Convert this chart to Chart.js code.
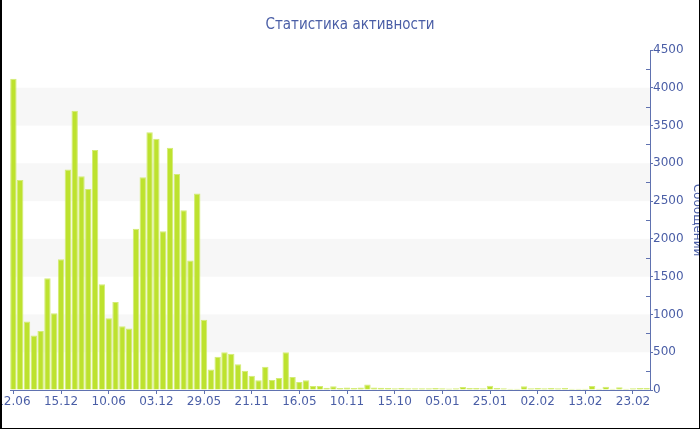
<!DOCTYPE html>
<html>
<head>
<meta charset="utf-8">
<script src="https://cdn.jsdelivr.net/npm/chart.js@4/dist/chart.umd.min.js"></script>
<style>
  html, body { margin: 0; padding: 0; background: #fff; overflow: hidden; }
  #wrap { position: relative; width: 700px; height: 430px; }
  #rama {
    position: absolute; left: 0; top: 0; width: 697px; height: 428px;
    border: 1px solid #000; border-left-width: 2px; border-top: none; pointer-events: none;
  }
</style>
</head>
<body>
<div id="wrap">
  <canvas id="chartAktywnosc" width="700" height="430"></canvas>
  <div id="rama"></div>
</div>
<script>
// Dane (liczba wiadomości na okres)
const wiadomosci = [
  4120, 2780, 905, 720, 780, 1480, 1015, 1730, 2920, 3695,
  2830, 2660, 3175, 1400, 950, 1165, 845, 815, 2135, 2815,
  3410, 3325, 2100, 3205, 2860, 2380, 1715, 2600, 930, 270,
  440, 500, 480, 340, 256, 190, 128, 309, 132, 159,
  500, 172, 106, 128, 53, 53, 31, 50, 26, 33,
  28, 33, 73, 33, 30, 26, 22, 27, 24, 24,
  24, 24, 27, 24, 20, 22, 40, 27, 26, 22,
  57, 26, 22, 18, 18, 48, 22, 26, 22, 26,
  22, 26, 18, 18, 18, 53, 18, 44, 18, 35,
  18, 22, 26, 26
];

// Podpisy osi X (co 7 słupków)
const podpisyX = ['12.06', '15.12', '10.06', '03.12', '29.05', '21.11', '16.05',
                  '10.11', '15.10', '05.01', '25.01', '02.02', '13.02', '23.02'];
const krokPodpisow = 7;

const tytul = 'Статистика активности';
const tytulOsiY = 'Сообщений';

const kolorTekstu = '#4a5ea6';
const kolorOsi = '#6072b0';
const czcionka = '"DejaVu Sans", Verdana, sans-serif';

// Kategorie: podpis przy co siódmym słupku
const kategorie = wiadomosci.map((_, i) => (i % krokPodpisow === 0 ? podpisyX[i / krokPodpisow] : ''));

/**
 * Pasy tła i drobne kreski osi Y
 */
const pasyTla = {
  id: 'pasyTla',
  beforeDatasetsDraw(chart) {
    const { ctx, chartArea, scales: { y } } = chart;
    ctx.save();
    ctx.fillStyle = '#f7f7f7';
    for (let v = 500; v < 4500; v += 1000) {
      const gora = y.getPixelForValue(v + 500);
      const dol = y.getPixelForValue(v);
      ctx.fillRect(chartArea.left, gora, chartArea.right - chartArea.left, dol - gora);
    }
    ctx.restore();
  },
  afterDraw(chart) {
    const { ctx, chartArea, scales: { y } } = chart;
    ctx.save();
    ctx.strokeStyle = kolorOsi;
    ctx.lineWidth = 1;
    ctx.beginPath();
    for (let v = 250; v < 4500; v += 500) {
      const py = Math.round(y.getPixelForValue(v)) + 0.5;
      ctx.moveTo(chartArea.right - 4, py);
      ctx.lineTo(chartArea.right, py);
    }
    ctx.stroke();
    ctx.restore();
  }
};

const ctx = document.getElementById('chartAktywnosc').getContext('2d');
const wykres = new Chart(ctx, {
  type: 'bar',
  data: {
    labels: kategorie,
    datasets: [{
      label: tytulOsiY,
      data: wiadomosci,
      backgroundColor: '#bde22e',
      borderColor: '#d3ec76',
      borderWidth: 1,
      barPercentage: 0.94,
      categoryPercentage: 1.0
    }]
  },
  options: {
    responsive: false,
    animation: false,
    layout: { padding: 0 },
    plugins: {
      legend: { display: false },
      tooltip: { enabled: false },
      title: {
        display: true,
        text: tytul,
        color: kolorTekstu,
        font: { family: '"DejaVu Sans Condensed", "DejaVu Sans", sans-serif', size: 15, weight: 'normal' },
        padding: { top: 16, bottom: 16 }
      }
    },
    scales: {
      x: {
        offset: true,
        border: { display: true, color: kolorOsi, width: 1 },
        grid: {
          offset: false,
          drawOnChartArea: false,
          tickLength: 4,
          tickColor: c => (c.index % krokPodpisow === 0 ? kolorOsi : 'transparent')
        },
        ticks: {
          autoSkip: false,
          maxRotation: 0,
          padding: 1,
          color: kolorTekstu,
          font: { family: czcionka, size: 12 }
        },
        afterFit(scale) {
          // pierwszy podpis ma być przycięty, jak w oryginale
          scale.paddingLeft = 10;
          scale.paddingRight = 0;
          scale.height = 40;
        }
      },
      y: {
        position: 'right',
        min: 0,
        max: 4500,
        border: { display: true, color: kolorOsi, width: 1 },
        grid: { drawOnChartArea: false, tickLength: 3, tickColor: kolorOsi },
        ticks: {
          stepSize: 500,
          padding: 0,
          color: kolorTekstu,
          font: { family: czcionka, size: 12 },
          callback: v => String(v)
        },
        title: {
          display: true,
          text: tytulOsiY,
          color: kolorTekstu,
          font: { family: czcionka, size: 12 },
          padding: { top: -4, bottom: 0 }
        },
        afterFit(scale) {
          scale.width = 50;
          scale.paddingTop = 0;
          scale.paddingBottom = 0;
        }
      }
    }
  },
  plugins: [pasyTla]
});
</script>
</body>
</html>
